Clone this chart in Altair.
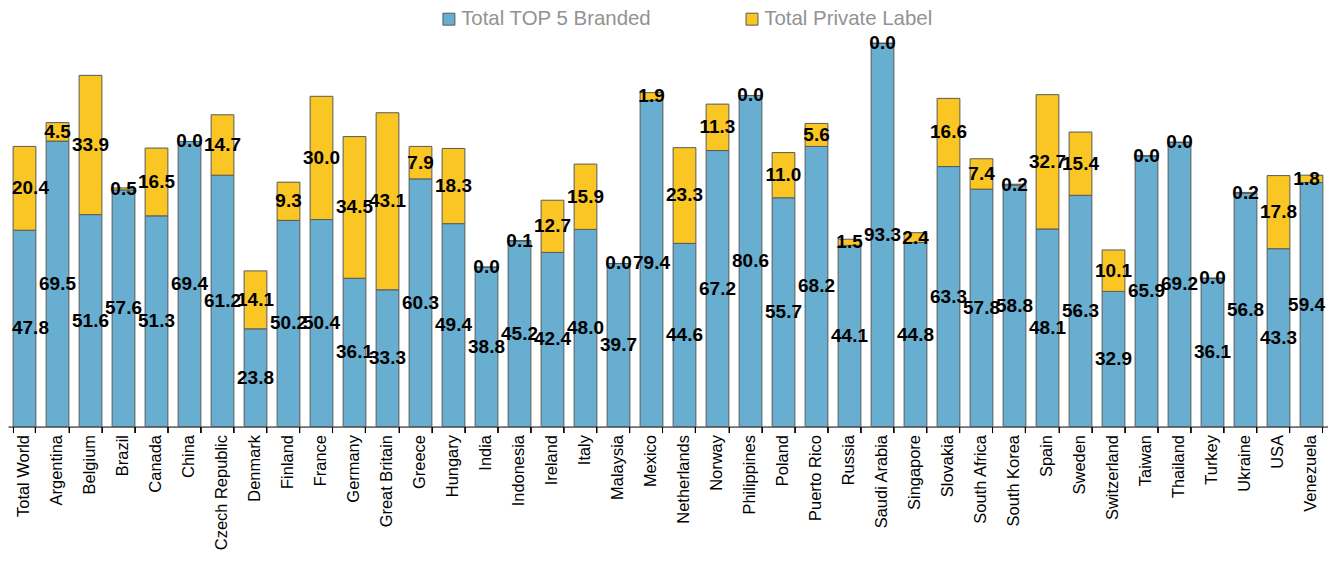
import altair as alt
import pandas as pd

countries = ["Total World", "Argentina", "Belgium", "Brazil", "Canada", "China",
             "Czech Republic", "Denmark", "Finland", "France", "Germany",
             "Great Britain", "Greece", "Hungary", "India", "Indonesia", "Ireland",
             "Italy", "Malaysia", "Mexico", "Netherlands", "Norway", "Philippines",
             "Poland", "Puerto Rico", "Russia", "Saudi Arabia", "Singapore",
             "Slovakia", "South Africa", "South Korea", "Spain", "Sweden",
             "Switzerland", "Taiwan", "Thailand", "Turkey", "Ukraine", "USA",
             "Venezuela"]
branded = [47.8, 69.5, 51.6, 57.6, 51.3, 69.4, 61.2, 23.8, 50.2, 50.4, 36.1,
           33.3, 60.3, 49.4, 38.8, 45.2, 42.4, 48.0, 39.7, 79.4, 44.6, 67.2,
           80.6, 55.7, 68.2, 44.1, 93.3, 44.8, 63.3, 57.8, 58.8, 48.1, 56.3,
           32.9, 65.9, 69.2, 36.1, 56.8, 43.3, 59.4]
private = [20.4, 4.5, 33.9, 0.5, 16.5, 0.0, 14.7, 14.1, 9.3, 30.0, 34.5,
           43.1, 7.9, 18.3, 0.0, 0.1, 12.7, 15.9, 0.0, 1.9, 23.3, 11.3,
           0.0, 11.0, 5.6, 1.5, 0.0, 2.4, 16.6, 7.4, 0.2, 32.7, 15.4,
           10.1, 0.0, 0.0, 0.0, 0.2, 17.8, 1.8]
series_names = ["Total TOP 5 Branded", "Total Private Label"]
series_colors = ["#67AED0", "#F9C623"]

rows = []
for i, c in enumerate(countries):
    rows.append({"country": c, "series": series_names[0], "value": branded[i], "order": 0})
    rows.append({"country": c, "series": series_names[1], "value": private[i], "order": 1})
df = pd.DataFrame(rows)

xscale = alt.Scale(paddingInner=0.31, paddingOuter=0.155)
yscale = alt.Scale(domain=[0, 100])
first_c, last_c = countries[0], countries[-1]

bars = alt.Chart(df).mark_bar(stroke="#595959", strokeWidth=1).encode(
    x=alt.X("country:N", sort=countries, scale=xscale,
            axis=alt.Axis(title=None, orient="bottom", labelAngle=-90, labelAlign="right",
                          labelBaseline="middle", labelFontSize=16.5, labelColor="black",
                          labelFont="Liberation Sans", ticks=False, tickSize=0,
                          labelPadding=8, domain=True, domainColor="black",
                          domainWidth=1, labelLimit=300)),
    y=alt.Y("value:Q", stack="zero", scale=yscale, axis=None),
    color=alt.Color("series:N",
                    scale=alt.Scale(domain=series_names, range=series_colors),
                    legend=alt.Legend(title=None, orient="none", legendX=432, legendY=-7,
                                      direction="horizontal", symbolType="square",
                                      symbolSize=144, symbolStrokeColor="#595959",
                                      symbolStrokeWidth=1, labelFontSize=20.5,
                                      labelFont="Liberation Sans", labelColor="#929292",
                                      labelOffset=2, columnPadding=90, symbolOpacity=1,
                                      labelLimit=400)),
    order=alt.Order("order:Q"),
)

stacked = alt.Chart(df).transform_stack(
    stack="value", groupby=["country"],
    sort=[alt.SortField("order", order="ascending")], as_=["y0", "y1"]
).transform_calculate(
    mid="(datum.y0 + datum.y1) / 2"
)

text_enc = dict(
    x=alt.X("country:N", sort=countries, scale=xscale,
            axis=alt.Axis(title=None, orient="bottom", labels=False, ticks=True,
                          tickSize=6, tickColor="black", tickWidth=1, domain=False,
                          bandPosition=1, tickExtra=True)),
    y=alt.Y("mid:Q", scale=yscale, axis=None),
    text=alt.Text("value:Q", format=".1f"),
)
text_style = dict(fontSize=19, fontWeight="bold", font="Liberation Sans", color="black")

labels_mid = stacked.transform_filter(
    (alt.datum.country != first_c) & (alt.datum.country != last_c)
).mark_text(**text_style).encode(**text_enc)
labels_first = stacked.transform_filter(alt.datum.country == first_c).mark_text(
    dx=6, **text_style).encode(**text_enc)
labels_last = stacked.transform_filter(alt.datum.country == last_c).mark_text(
    dx=-5, **text_style).encode(**text_enc)

chart = alt.layer(bars, labels_mid, labels_first, labels_last).resolve_axis(
    x="independent"
).properties(
    width=1324, height=412,
    autosize=alt.AutoSizeParams(type="none"),
    padding={"left": 0, "top": 7, "right": 0, "bottom": 127},
).configure_view(stroke=None)

chart.save("out.html", embed_options={"renderer": "svg", "actions": False})
